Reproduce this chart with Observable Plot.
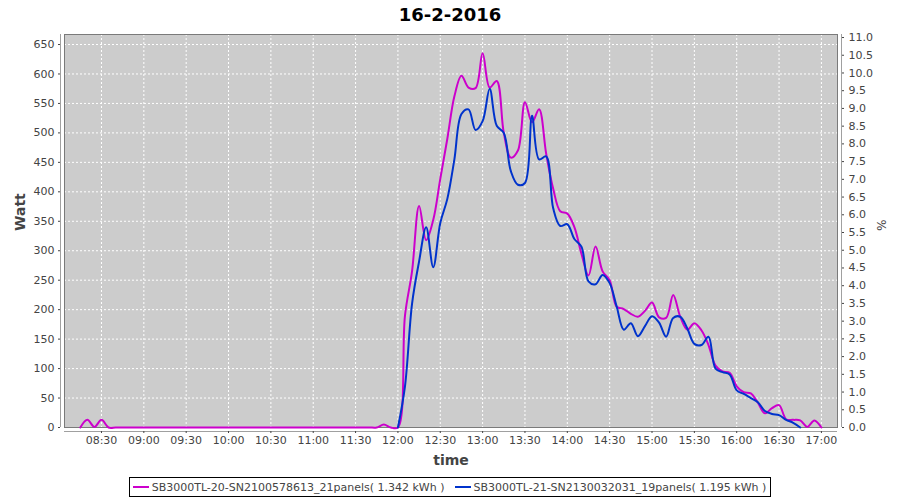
<!DOCTYPE html>
<html>
<head>
<meta charset="utf-8">
<script src="https://cdn.jsdelivr.net/npm/d3@7"></script>
<script src="https://cdn.jsdelivr.net/npm/@observablehq/plot@0.6"></script>
<style>
  html, body { margin: 0; padding: 0; background: #fff; }
  body { width: 900px; height: 500px; overflow: hidden; font-family: "DejaVu Sans", sans-serif; }
  #title { height: 29px; line-height: 30px; text-align: center; font-weight: bold; font-size: 18px; color: #000; }
  #chart svg { display: block; }
  #legendwrap { display: flex; justify-content: center; margin-top: 0px; }
  #legend { display: inline-flex; align-items: center; border: 1px solid #000; height: 18px; padding: 0 4px 0 3px; font-size: 11px; color: #444; }
  .item { display: inline-flex; align-items: center; margin-right: 10px; }
  .item:last-child { margin-right: 0; }
  .sw { display: inline-block; width: 16px; height: 2px; margin-right: 3px; }
</style>
</head>
<body>
<div id="title">16-2-2016</div>
<div id="chart"></div>
<div id="legendwrap"><div id="legend"></div></div>
<script>
// ---- data ----
const chartTitle = "16-2-2016";
const stepMinutes = 5;
const seriesNames = [
  "SB3000TL-20-SN2100578613_21panels( 1.342 kWh )",
  "SB3000TL-21-SN2130032031_19panels( 1.195 kWh )"
];
const seriesColors = ["#cc00cc", "#0033cc"];

// SB3000TL-20 (magenta), 5-minute samples starting 08:15
const magentaStart = "08:15";
const magentaWatt = [
  0, 13, 1, 13, 0,                                  // 08:15 - 08:35
  0, 0, 0, 0, 0, 0, 0, 0, 0, 0, 0, 0,               // 08:40 - 09:35
  0, 0, 0, 0, 0, 0, 0, 0, 0, 0, 0, 0,               // 09:40 - 10:35
  0, 0, 0, 0, 0, 0, 0, 0, 0, 0, 0, 0,               // 10:40 - 11:35
  0, 0, 5, 0,                                       // 11:40 - 11:55
  0, 190, 265, 376, 318, 352, 422, 490, 562, 597, 577, 576,   // 12:00 - 12:55
  635, 577, 588, 500, 458, 470, 552, 518, 540, 465, 405, 367, // 13:00 - 13:55
  363, 340, 295, 258, 307, 265, 250, 205, 201, 193, 188, 198, // 14:00 - 14:55
  212, 187, 186, 225, 188, 166, 177, 165, 140, 105, 95, 93,   // 15:00 - 15:55
  70, 60, 58, 42, 24, 33, 38, 14, 13, 12, 1, 12,              // 16:00 - 16:55
  0                                                           // 17:00
];

// SB3000TL-21 (blue), 5-minute samples starting 12:00
const blueStart = "12:00";
const blueWatt = [
  0, 70, 210, 282, 340, 272, 347, 388, 455, 532, 540, 505,    // 12:00 - 12:55
  520, 575, 512, 500, 435, 412, 415, 529, 455, 460, 372, 342, // 13:00 - 13:55
  345, 320, 307, 248, 243, 259, 245, 205, 166, 177, 155, 172, // 14:00 - 14:55
  189, 178, 154, 186, 188, 168, 142, 140, 154, 100, 94, 90,   // 15:00 - 15:55
  63, 57, 50, 43, 28, 23, 21, 13, 8, 0                        // 16:00 - 16:45
];

const xTickLabels = ["08:30","09:00","09:30","10:00","10:30","11:00","11:30","12:00",
  "12:30","13:00","13:30","14:00","14:30","15:00","15:30","16:00","16:30","17:00"];
const wattTicks = [0,50,100,150,200,250,300,350,400,450,500,550,600,650];
const pctTicks = [0,0.5,1,1.5,2,2.5,3,3.5,4,4.5,5,5.5,6,6.5,7,7.5,8,8.5,9,9.5,10,10.5,11];
const xDomainLabels = ["08:03.8", "17:11.4"];
const wattMax = 667;
const wattPerPercent = 60.17;

// ---- helpers ----
const toMin = s => { const [h, m] = s.split(":"); return +h * 60 + parseFloat(m); };
const fmt = m => String(Math.floor(m / 60)).padStart(2, "0") + ":" + String(Math.round(m % 60)).padStart(2, "0");
const build = (start, vals, s) => vals.map((v, i) => ({t: toMin(start) + i * stepMinutes, v, s}));
const magenta = build(magentaStart, magentaWatt, 0);
const blue = build(blueStart, blueWatt, 1);
const xTicks = xTickLabels.map(toMin);
const xDomain = xDomainLabels.map(toMin);

const grid = {stroke: "#ffffff", strokeOpacity: 1, strokeWidth: 1, strokeDasharray: "2,2"};

const chart = Plot.plot({
  width: 900,
  height: 448,
  marginLeft: 64,
  marginRight: 63,
  marginTop: 5,
  marginBottom: 50,
  style: {fontFamily: "DejaVu Sans, sans-serif", fontSize: "11px", color: "#444", background: "#fff", overflow: "visible"},
  x: {domain: xDomain, label: null},
  y: {domain: [0, wattMax], label: null},
  marks: [
    Plot.frame({fill: "#cccccc", stroke: null}),
    Plot.gridX(xTicks, grid),
    Plot.gridY(wattTicks, grid),
    Plot.frame({stroke: "#7a7a7a", fill: null}),
    Plot.line(magenta, {x: "t", y: "v", stroke: seriesColors[0], strokeWidth: 2, curve: "catmull-rom"}),
    Plot.line(blue, {x: "t", y: "v", stroke: seriesColors[1], strokeWidth: 2, curve: "catmull-rom"}),
    // offset axis lines
    Plot.ruleY([0], {dy: 4, stroke: "#a0a0a0"}),
    Plot.ruleX([xDomain[0]], {dx: -4, stroke: "#a0a0a0"}),
    Plot.ruleX([xDomain[1]], {dx: 4, stroke: "#a0a0a0"}),
    Plot.axisX(xTicks, {anchor: "bottom", tickSize: 2, tickPadding: 3, dy: 4, tickFormat: fmt, label: null, fontSize: 11}),
    Plot.axisY(wattTicks, {anchor: "left", tickSize: 2, tickPadding: 4, dx: -4, label: null, fontSize: 11}),
    Plot.axisY(pctTicks.map(p => p * wattPerPercent), {anchor: "right", tickSize: 2, tickPadding: 5, dx: 4, label: null, fontSize: 11,
      tickFormat: d => (d / wattPerPercent).toFixed(1)}),
    Plot.text(["Watt"], {frameAnchor: "left", dx: -44, rotate: -90, fontSize: 14, fontWeight: "bold", fill: "#444"}),
    Plot.text(["time"], {frameAnchor: "bottom", dy: 37, fontSize: 14, fontWeight: "bold", fill: "#444"}),
    Plot.text(["%"], {frameAnchor: "right", dx: 43, rotate: 90, fontSize: 12, fill: "#444"})
  ]
});
document.getElementById("chart").appendChild(chart);
document.getElementById("title").textContent = chartTitle;

const legend = document.getElementById("legend");
seriesNames.forEach((name, i) => {
  const item = document.createElement("span");
  item.className = "item";
  const sw = document.createElement("span");
  sw.className = "sw";
  sw.style.background = seriesColors[i];
  item.appendChild(sw);
  item.appendChild(document.createTextNode(name));
  legend.appendChild(item);
});
</script>
</body>
</html>
